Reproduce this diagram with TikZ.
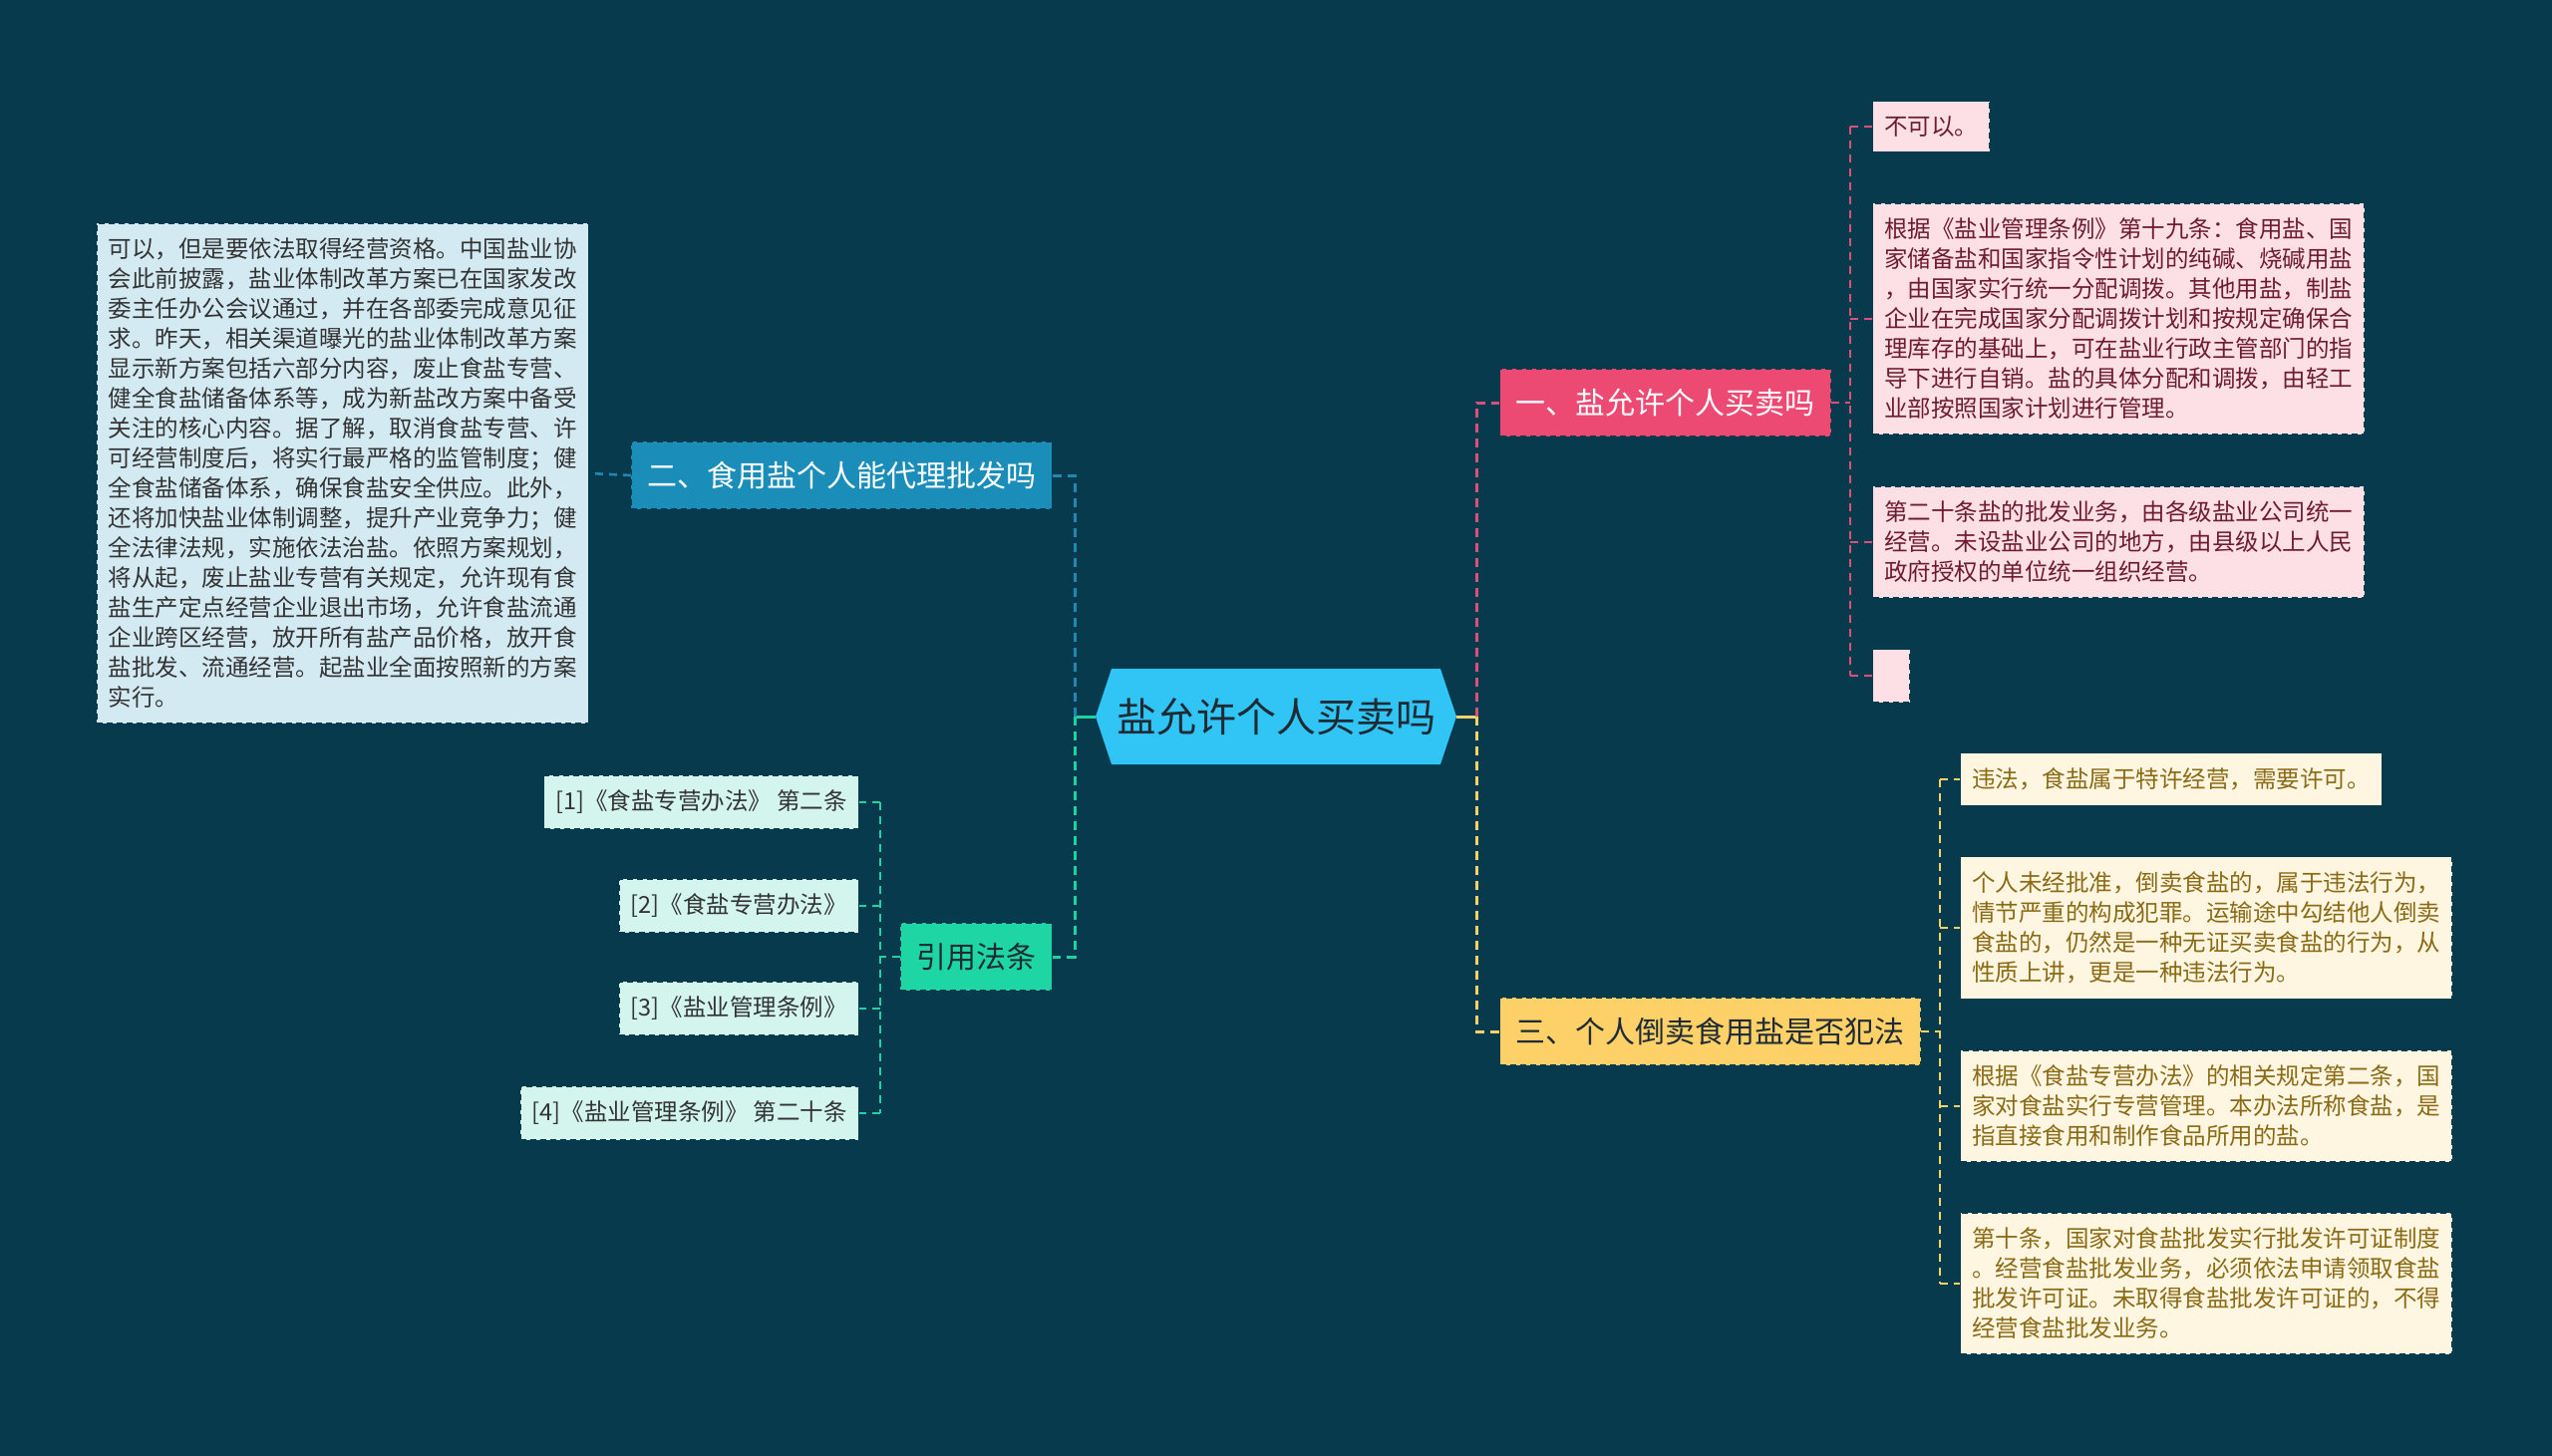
\documentclass[tikz,border=0pt]{standalone}
\usepackage{fontspec}
\setmainfont{Noto Sans CJK SC}
\usetikzlibrary{shapes.symbols}
\definecolor{bg}{HTML}{073A4D}
\definecolor{cen}{HTML}{30C5F4}
\definecolor{cenT}{HTML}{1E2B35}
\definecolor{pkB}{HTML}{EC4A72}
\definecolor{pkL}{HTML}{FDE0E6}
\definecolor{pkT}{HTML}{6E1B33}
\definecolor{pkC}{HTML}{D9517A}
\definecolor{ylB}{HTML}{FDD168}
\definecolor{ylL}{HTML}{FEF6E0}
\definecolor{ylT}{HTML}{8B6A16}
\definecolor{ylC}{HTML}{F5D36A}
\definecolor{blB}{HTML}{1B8DB9}
\definecolor{blL}{HTML}{D4EAF3}
\definecolor{blC}{HTML}{2088B3}
\definecolor{gnB}{HTML}{1ED6A3}
\definecolor{gnL}{HTML}{D3F5EE}
\definecolor{gnC}{HTML}{1FD2A0}
\definecolor{dkT}{HTML}{333333}
\begin{document}
\begin{tikzpicture}[x=1pt,y=-1pt,
  leaf/.style={rectangle, draw=bg, dash pattern=on 6pt off 4pt, line width=1.2pt,
    inner xsep=11.5pt, inner ysep=15pt, align=left,
    font=\fontsize{23.5pt}{30pt}\selectfont},
  branch/.style={rectangle, draw=bg, dash pattern=on 6pt off 4pt, line width=1.2pt,
    inner xsep=16pt, inner ysep=20pt, font=\fontsize{30pt}{36pt}\selectfont},
  con/.style={line width=2.6pt, dash pattern=on 8pt off 6pt},
  conM/.style={line width=3pt, dash pattern=on 9pt off 6pt},
  conS/.style={line width=3pt}]
\useasboundingbox (0,0) rectangle (2560,1461);
\fill[bg] (0,0) rectangle (2560,1461);

% centre
\node[signal, signal to=west and east, signal pointer angle=143, fill=cen,
  minimum width=362pt, minimum height=96pt, inner sep=0pt, text=cenT,
  font=\fontsize{40pt}{48pt}\selectfont] (c) at (1280,719) {盐允许个人买卖吗};

% branches
\node[branch, fill=pkB, text=white, anchor=west] (b1) at (1504,404) {一、盐允许个人买卖吗};
\node[branch, fill=ylB, text=cenT, anchor=west] (b3) at (1504,1035) {三、个人倒卖食用盐是否犯法};
\node[branch, fill=blB, text=white, anchor=east] (b2) at (1056,477) {二、食用盐个人能代理批发吗};
\node[branch, fill=gnB, text=cenT, anchor=east] (b4) at (1056,960) {引用法条};

% leaves of branch 1
\node[leaf, fill=pkL, text=pkT, anchor=west] (l11) at (1878,127) {不可以。};
\node[leaf, fill=pkL, text=pkT, anchor=west] (l12) at (1878,320) {根据《盐业管理条例》第十九条：食用盐、国\\家储备盐和国家指令性计划的纯碱、烧碱用盐\\，由国家实行统一分配调拨。其他用盐，制盐\\企业在完成国家分配调拨计划和按规定确保合\\理库存的基础上，可在盐业行政主管部门的指\\导下进行自销。盐的具体分配和调拨，由轻工\\业部按照国家计划进行管理。};
\node[leaf, fill=pkL, text=pkT, anchor=west] (l13) at (1878,544) {第二十条盐的批发业务，由各级盐业公司统一\\经营。未设盐业公司的地方，由县级以上人民\\政府授权的单位统一组织经营。};
\node[leaf, fill=pkL, anchor=west, minimum width=37pt, minimum height=53pt] (l14) at (1878,678) {};

% leaves of branch 3
\node[leaf, fill=ylL, text=ylT, anchor=west] (l31) at (1966,782) {违法，食盐属于特许经营，需要许可。};
\node[leaf, fill=ylL, text=ylT, anchor=west] (l32) at (1966,931) {个人未经批准，倒卖食盐的，属于违法行为，\\情节严重的构成犯罪。运输途中勾结他人倒卖\\食盐的，仍然是一种无证买卖食盐的行为，从\\性质上讲，更是一种违法行为。};
\node[leaf, fill=ylL, text=ylT, anchor=west] (l33) at (1966,1110) {根据《食盐专营办法》的相关规定第二条，国\\家对食盐实行专营管理。本办法所称食盐，是\\指直接食用和制作食品所用的盐。};
\node[leaf, fill=ylL, text=ylT, anchor=west] (l34) at (1966,1288) {第十条，国家对食盐批发实行批发许可证制度\\。经营食盐批发业务，必须依法申请领取食盐\\批发许可证。未取得食盐批发许可证的，不得\\经营食盐批发业务。};

% leaf of branch 2
\node[leaf, fill=blL, text=dkT, anchor=east] (l21) at (591,475) {可以，但是要依法取得经营资格。中国盐业协\\会此前披露，盐业体制改革方案已在国家发改\\委主任办公会议通过，并在各部委完成意见征\\求。昨天，相关渠道曝光的盐业体制改革方案\\显示新方案包括六部分内容，废止食盐专营、\\健全食盐储备体系等，成为新盐改方案中备受\\关注的核心内容。据了解，取消食盐专营、许\\可经营制度后，将实行最严格的监管制度；健\\全食盐储备体系，确保食盐安全供应。此外，\\还将加快盐业体制调整，提升产业竞争力；健\\全法律法规，实施依法治盐。依照方案规划，\\将从起，废止盐业专营有关规定，允许现有食\\盐生产定点经营企业退出市场，允许食盐流通\\企业跨区经营，放开所有盐产品价格，放开食\\盐批发、流通经营。起盐业全面按照新的方案\\实行。};

% leaves of branch 4
\node[leaf, fill=gnL, text=dkT, anchor=east] (l41) at (862,805) {[1]《食盐专营办法》 第二条};
\node[leaf, fill=gnL, text=dkT, anchor=east] (l42) at (862,909) {[2]《食盐专营办法》};
\node[leaf, fill=gnL, text=dkT, anchor=east] (l43) at (862,1012) {[3]《盐业管理条例》};
\node[leaf, fill=gnL, text=dkT, anchor=east] (l44) at (862,1117) {[4]《盐业管理条例》 第二十条};

% centre connectors
\coordinate (jr) at (1481,719);
\coordinate (jl) at (1078,719);
\draw[conS, ylC] (c.east) -- (jr);
\draw[conS, gnC] (c.west) -- (jl);
\draw[conM, pkC] (jr) |- (b1.west);
\draw[conM, ylC] (jr) |- (b3.west);
\draw[conM, blC] (jl) |- (b2.east);
\draw[conM, gnC] (jl) |- (b4.east);

% branch 1 connectors
\coordinate (p1) at (1856,404);
\draw[con, pkC] (b1.east) -- (p1);
\draw[con, pkC] (p1 |- l11.west) -- (p1 |- l14.west);
\foreach \n in {l11,l12,l13,l14} \draw[con, pkC] (p1 |- \n.west) -- (\n.west);

% branch 3 connectors
\coordinate (p3) at (1946,1035);
\draw[con, ylC] (b3.east) -- (p3);
\draw[con, ylC] (p3 |- l31.west) -- (p3 |- l34.west);
\foreach \n in {l31,l32,l33,l34} \draw[con, ylC] (p3 |- \n.west) -- (\n.west);

% branch 2 connector
\draw[con, blC] (b2.west) -- (l21.east);

% branch 4 connectors
\coordinate (p4) at (883,960);
\draw[con, gnC] (b4.west) -- (p4);
\draw[con, gnC] (p4 |- l41.east) -- (p4 |- l44.east);
\foreach \n in {l41,l42,l43,l44} \draw[con, gnC] (p4 |- \n.east) -- (\n.east);
\end{tikzpicture}
\end{document}
